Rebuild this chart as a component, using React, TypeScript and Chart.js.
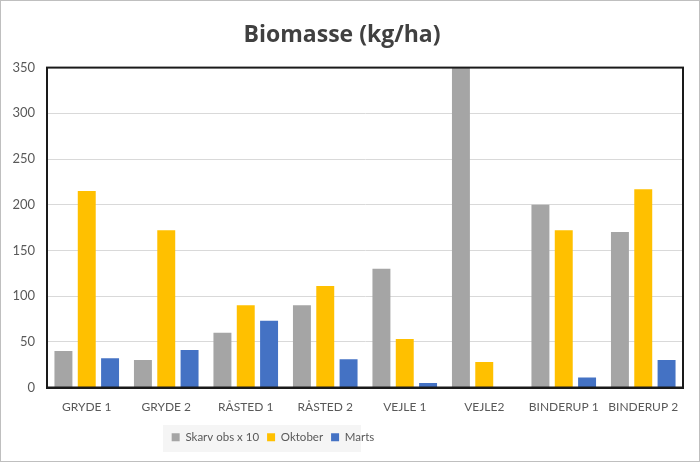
import React, { useEffect, useRef } from "react";
import { Chart, registerables } from "chart.js";

Chart.register(...registerables);

const categories = ["GRYDE 1", "GRYDE 2", "RÅSTED 1", "RÅSTED 2", "VEJLE 1", "VEJLE2", "BINDERUP 1", "BINDERUP 2"];
const skarv = [40, 30, 60, 90, 130, 350, 200, 170];
const oktober = [215, 172, 90, 111, 53, 28, 172, 217];
const marts = [32, 41, 73, 31, 5, 0, 11, 30];
const yTicks = [0, 50, 100, 150, 200, 250, 300, 350];

const FONT = "Lato, sans-serif";

const frame = {
  id: "frame",
  afterLayout(chart: any) {
    const lg = chart.legend;
    if (lg) {
      lg.left = 122;
      lg.right = 422;
      lg.top += 2;
      lg.bottom += 2;
    }
  },
  beforeDraw(chart: any) {
    const ctx = chart.ctx;
    ctx.save();
    ctx.fillStyle = "#f5f5f5";
    ctx.fillRect(162, 424, 198, 27);
    ctx.restore();
  },
  afterDraw(chart: any) {
    const { ctx, chartArea } = chart;
    ctx.save();
    ctx.strokeStyle = "#1a1a1a";
    ctx.lineWidth = 2;
    ctx.strokeRect(chartArea.left, chartArea.top, chartArea.right - chartArea.left, chartArea.bottom - chartArea.top);
    ctx.restore();
  },
};

export default function App() {
  const ref = useRef<HTMLCanvasElement>(null);
  useEffect(() => {
    document.body.style.margin = "0";
    const chart = new Chart(ref.current!, {
      type: "bar",
      data: {
        labels: categories,
        datasets: [
          { label: "Skarv obs x 10", data: skarv, backgroundColor: "#a5a5a5" },
          { label: "Oktober", data: oktober, backgroundColor: "#ffc000" },
          { label: "Marts", data: marts, backgroundColor: "#4472c4" },
        ],
      },
      options: {
        animation: false,
        responsive: false,
        maintainAspectRatio: false,
        layout: { padding: { left: 0, right: 16, top: 0, bottom: 10 } },
        datasets: { bar: { categoryPercentage: 0.88, barPercentage: 0.77 } } as any,
        plugins: {
          title: {
            display: true,
            text: "Biomasse (kg/ha)",
            color: "#404040",
            font: { family: "'Open Sans', sans-serif", size: 23, weight: "bold" },
            padding: { top: 21, bottom: 18 },
          },
          legend: {
            position: "bottom",
            labels: {
              color: "#595959",
              font: { family: FONT, size: 11.5 },
              boxWidth: 8,
              boxHeight: 8,
              padding: 8,
            },
          },
          tooltip: { enabled: false },
        },
        scales: {
          x: {
            grid: { display: false },
            border: { display: true, color: "#1a1a1a", width: 2 },
            ticks: { color: "#595959", font: { family: FONT, size: 12 }, padding: 4, maxRotation: 0, autoSkip: false },
            afterFit: (axis: any) => {
              axis.height = 34;
            },
          },
          y: {
            min: 0,
            max: 350,
            afterBuildTicks: (axis: any) => {
              axis.ticks = yTicks.map((v) => ({ value: v }));
            },
            afterFit: (axis: any) => {
              axis.width = 46;
            },
            grid: { color: "#d9d9d9", lineWidth: 1, drawTicks: false },
            border: { display: true, color: "#1a1a1a", width: 2 },
            ticks: { color: "#595959", font: { family: FONT, size: 13 }, padding: 12 },
          },
        },
      },
      plugins: [frame],
    });
    return () => chart.destroy();
  }, []);
  return (
    <div style={{ width: 700, height: 462, boxSizing: "border-box", border: "1px solid #bfbfbf", background: "#fff" }}>
      <canvas ref={ref} width={698} height={460} style={{ display: "block" }} />
    </div>
  );
}
